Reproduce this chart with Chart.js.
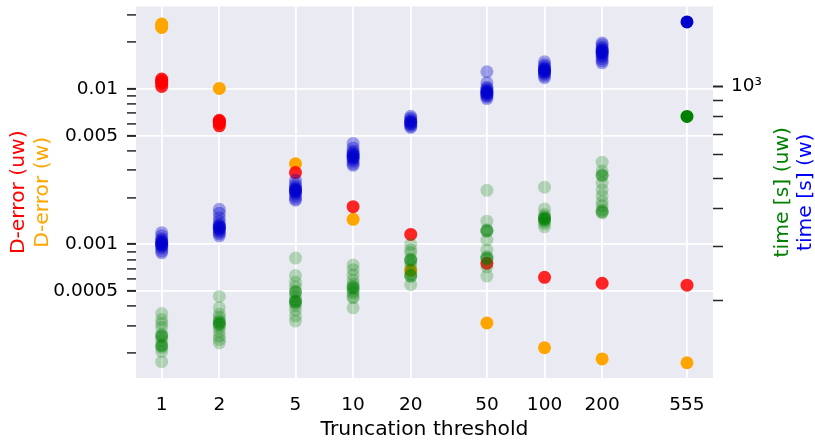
<!DOCTYPE html>
<html>
<head>
<meta charset="utf-8">
<script src="https://cdn.jsdelivr.net/npm/chart.js@4.4.1/dist/chart.umd.min.js"></script>
<style>
  html, body { margin: 0; padding: 0; background: #fff; }
  canvas { display: block; }
</style>
</head>
<body>
<canvas id="chart" width="815" height="444" style="width:815px;height:444px"></canvas>
<script>

// truncation thresholds (x) and the values read at each one
const thresholds = [1, 2, 5, 10, 20, 50, 100, 200, 555];

const derrUw = [
  [0.0116, 0.0113, 0.0111, 0.0109, 0.0104],
  [0.0063, 0.0062, 0.0061, 0.0060, 0.0058],
  [0.0029],
  [0.00175],
  [0.00116],
  [0.000755],
  [0.000614],
  [0.000562],
  [0.000546]
];

const derrW = [
  [0.0262, 0.0255, 0.0249],
  [0.0101],
  [0.0033],
  [0.00145],
  [0.00068],
  [0.000312],
  [0.000216],
  [0.000183],
  [0.000173]
];

const timeUw = [
  [181, 173, 168, 163, 155, 153, 153, 152, 148, 143, 142, 142, 140, 136, 126],
  [206, 189, 180, 176, 172, 170, 169, 168, 167, 166, 163, 158, 153, 149, 145],
  [275, 241, 229, 221, 214, 213, 212, 206, 200, 199, 198, 197, 196, 192, 186, 178, 171],
  [261, 252, 242, 233, 226, 222, 220, 220, 218, 214, 211, 205, 204, 189],
  [305, 292, 286, 273, 271, 271, 268, 261, 252, 244, 241, 241, 239, 225],
  [458, 363, 340, 338, 338, 336, 315, 292, 278, 275, 275, 273, 257, 240],
  [469, 398, 382, 376, 372, 372, 370, 369, 367, 366, 362, 356, 348],
  [566, 530, 515, 513, 510, 484, 460, 440, 420, 408, 395, 390, 390, 386],
  [799]
];

const timeW = [
  [333, 325, 318, 315, 312, 309, 309, 306, 306, 303, 303, 300, 296, 290, 286],
  [397, 385, 372, 362, 354, 350, 350, 346, 346, 342, 342, 338, 334, 330, 325],
  [494, 480, 472, 466, 461, 461, 457, 457, 452, 452, 446, 438, 430, 425],
  [652, 630, 615, 608, 600, 600, 592, 592, 585, 585, 578, 570, 560, 553],
  [800, 790, 780, 772, 765, 765, 758, 758, 750, 742, 735],
  [1119, 1030, 995, 985, 975, 965, 965, 955, 955, 945, 945, 935, 925, 914],
  [1206, 1180, 1165, 1150, 1140, 1140, 1130, 1130, 1120, 1120, 1110, 1100, 1085, 1070],
  [1390, 1370, 1345, 1330, 1315, 1315, 1300, 1300, 1285, 1285, 1270, 1255, 1235, 1215, 1197],
  [1628]
];

// tick values on the two y axes, and the ones that carry a label
const leftTicks = [0.0002, 0.0003, 0.0004, 0.0005, 0.0006, 0.0007, 0.0008, 0.0009,
  0.001, 0.002, 0.003, 0.004, 0.005, 0.006, 0.007, 0.008, 0.009, 0.01, 0.02, 0.03];
const leftLabels = [0.0005, 0.001, 0.005, 0.01];
const rightTicks = [200, 300, 400, 500, 600, 700, 800, 900, 1000];
const rightLabels = { 1000: "10³" };

const FONT = "'DejaVu Sans', sans-serif";

function toPoints(groups) {
  return groups.flatMap((vals, i) => vals.map(v => ({ x: thresholds[i], y: v })));
}

function fadeUnlessLast(solid, faded) {
  return ctx => (ctx.raw && ctx.raw.x === thresholds[thresholds.length - 1]) ? solid : faded;
}

// keep the plot box where the reference has it
function fixY(width) {
  return axis => {
    axis.width = width;
    axis.paddingTop = 0;
    axis.paddingBottom = 0;
  };
}

const plotBackground = {
  id: "plotBackground",
  beforeDraw(chart) {
    const a = chart.chartArea;
    const ctx = chart.ctx;
    ctx.save();
    ctx.fillStyle = "#EAEAF2";
    ctx.fillRect(a.left, a.top, a.right - a.left, a.bottom - a.top);
    ctx.restore();
  }
};

// two-coloured axis titles on each side
const sideTitles = {
  id: "sideTitles",
  afterDraw(chart) {
    const ctx = chart.ctx;
    const midY = (chart.chartArea.top + chart.chartArea.bottom) / 2;
    const items = [
      [19, "D-error (uw)", "#FF0000"],
      [43, "D-error (w)", "#FFA500"],
      [783, "time [s] (uw)", "#008000"],
      [806, "time [s] (w)", "#0000FF"]
    ];
    ctx.save();
    ctx.font = "20.3px " + FONT;
    ctx.textAlign = "center";
    ctx.textBaseline = "middle";
    items.forEach(([x, text, color]) => {
      ctx.save();
      ctx.translate(x, midY);
      ctx.rotate(-Math.PI / 2);
      ctx.fillStyle = color;
      ctx.fillText(text, 0, 0);
      ctx.restore();
    });
    ctx.restore();
  }
};

new Chart(document.getElementById("chart"), {
  type: "scatter",
  data: {
    datasets: [
      {
        label: "time [s] (w)",
        data: toPoints(timeW),
        yAxisID: "yR",
        backgroundColor: fadeUnlessLast("rgb(0,0,205)", "rgba(0,0,205,0.35)"),
        order: 0
      },
      {
        label: "time [s] (uw)",
        data: toPoints(timeUw),
        yAxisID: "yR",
        backgroundColor: fadeUnlessLast("rgb(0,128,0)", "rgba(0,128,0,0.25)"),
        order: 1
      },
      {
        label: "D-error (uw)",
        data: toPoints(derrUw),
        yAxisID: "yL",
        backgroundColor: "rgba(255,0,0,0.85)",
        order: 2
      },
      {
        label: "D-error (w)",
        data: toPoints(derrW),
        yAxisID: "yL",
        backgroundColor: "rgb(255,165,0)",
        order: 3
      }
    ]
  },
  options: {
    responsive: false,
    animation: false,
    layout: { padding: { top: 5, left: 0, right: 0, bottom: 0 } },
    elements: { point: { radius: 6.5, borderWidth: 0, hoverRadius: 6.5 } },
    plugins: { legend: { display: false }, tooltip: { enabled: false } },
    scales: {
      x: {
        type: "logarithmic",
        min: 0.734,
        max: 759,
        bounds: "data",
        afterBuildTicks: axis => { axis.ticks = thresholds.map(v => ({ value: v })); },
        afterFit: axis => {
          axis.height = 66;
          axis.paddingLeft = 0;
          axis.paddingRight = 0;
        },
        border: { display: false },
        grid: { color: "#FFFFFF", lineWidth: 1.8, drawTicks: false },
        ticks: {
          autoSkip: false,
          maxRotation: 0,
          padding: 16,
          color: "#000",
          font: { family: FONT, size: 18.5 },
          callback: v => String(v)
        },
        title: {
          display: true,
          text: "Truncation threshold",
          color: "#000",
          font: { family: FONT, size: 20.3 },
          padding: { top: 0, bottom: 2 }
        }
      },
      yL: {
        type: "logarithmic",
        position: "left",
        min: 0.000138,
        max: 0.034,
        bounds: "data",
        afterBuildTicks: axis => { axis.ticks = leftTicks.map(v => ({ value: v })); },
        afterFit: fixY(136),
        border: { display: false },
        grid: {
          color: ctx => leftLabels.includes(ctx.tick.value) ? "#FFFFFF" : "rgba(0,0,0,0)",
          lineWidth: 1.8,
          tickColor: "#262626",
          tickLength: 9,
          tickWidth: ctx => leftLabels.includes(ctx.tick.value) ? 2 : 1.5
        },
        ticks: {
          autoSkip: false,
          padding: 9,
          color: "#000",
          font: { family: FONT, size: 18.5 },
          callback: v => leftLabels.includes(v) ? String(v) : ""
        }
      },
      yR: {
        type: "logarithmic",
        position: "right",
        min: 111.4,
        max: 1829,
        bounds: "data",
        afterBuildTicks: axis => { axis.ticks = rightTicks.map(v => ({ value: v })); },
        afterFit: fixY(102),
        border: { display: false },
        grid: {
          drawOnChartArea: false,
          tickColor: "#262626",
          tickLength: 10,
          tickWidth: ctx => rightLabels[ctx.tick.value] ? 2 : 1.5
        },
        ticks: {
          autoSkip: false,
          padding: 8,
          color: "#000",
          font: { family: FONT, size: 18.5 },
          callback: v => rightLabels[v] || ""
        }
      }
    }
  },
  plugins: [plotBackground, sideTitles]
});

</script>
</body>
</html>
